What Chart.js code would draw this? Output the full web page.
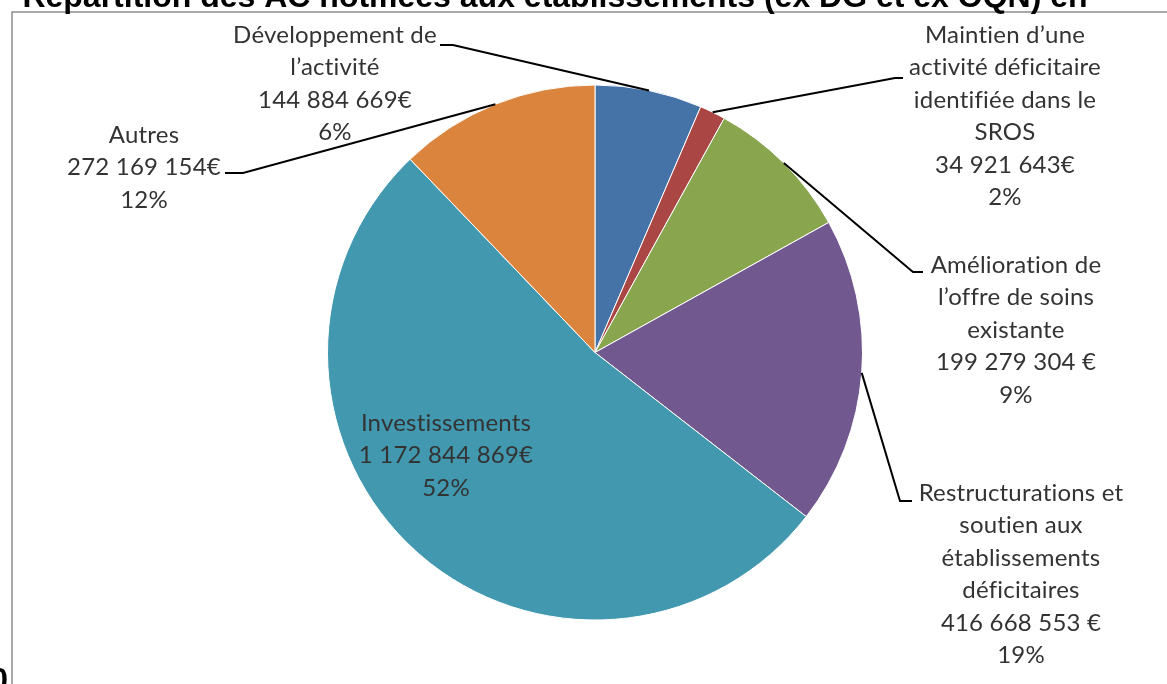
<!DOCTYPE html>
<html>
<head>
<meta charset="utf-8">
<script src="https://cdn.jsdelivr.net/npm/chart.js@4"></script>
<style>
  html, body { margin: 0; padding: 0; background: #fff; }
  #wrap { position: relative; width: 1167px; height: 684px; }
</style>
</head>
<body>
<div id="wrap"><canvas id="pie"></canvas></div>
<script>
// Données
const categories = [
  'Développement de l’activité',
  'Maintien d’une activité déficitaire identifiée dans le SROS',
  'Amélioration de l’offre de soins existante',
  'Restructurations et soutien aux établissements déficitaires',
  'Investissements',
  'Autres',
];
const amounts = [144884669, 34921643, 199279304, 416668553, 1172844869, 272169154];
const amountLabels = ['144 884 669€', '34 921 643€', '199 279 304 €', '416 668 553 €', '1 172 844 869€', '272 169 154€'];
const percentLabels = ['6%', '2%', '9%', '19%', '52%', '12%'];
const labelLines = [
  ['Développement de', 'l’activité'],
  ['Maintien d’une', 'activité déficitaire', 'identifiée dans le', 'SROS'],
  ['Amélioration de', 'l’offre de soins', 'existante'],
  ['Restructurations et', 'soutien aux', 'établissements', 'déficitaires'],
  ['Investissements'],
  ['Autres'],
];
const titleText = 'Répartition des AC notifiées aux établissements (ex DG et ex OQN) en';

const colors = ['#4572A7', '#AA4643', '#89A54E', '#71588F', '#4198AF', '#DB843D'];

// Placement des étiquettes (centre x, y de la 1re ligne) et des lignes de rappel
const labelLayout = [
  { x: 335, y: 35, elbow: [453, 45], end: [440, 45] },
  { x: 1005, y: 35, elbow: [895, 78], end: [903, 78] },
  { x: 1016, y: 265, elbow: [913, 272], end: [923, 272] },
  { x: 1021, y: 493, elbow: [900, 501], end: [912, 501] },
  { x: 446, y: 423 },
  { x: 144, y: 135, elbow: [243, 173], end: [225, 173] },
];
const lineHeight = 32.5;
const labelFont = '24px Lato';

const labelsPlugin = {
  id: 'sliceLabels',
  afterDraw(chart) {
    const ctx = chart.ctx;
    const arcs = chart.getDatasetMeta(0).data;
    ctx.save();

    // cadre gris
    ctx.strokeStyle = '#8c8c8c';
    ctx.lineWidth = 1.5;
    ctx.beginPath();
    ctx.moveTo(12, 684);
    ctx.lineTo(12, 12);
    ctx.lineTo(1167, 12);
    ctx.stroke();

    // lignes de rappel
    ctx.strokeStyle = '#000';
    ctx.lineWidth = 2;
    arcs.forEach((arc, i) => {
      const lay = labelLayout[i];
      if (!lay.elbow) return;
      const mid = (arc.startAngle + arc.endAngle) / 2;
      const px = arc.x + Math.cos(mid) * arc.outerRadius;
      const py = arc.y + Math.sin(mid) * arc.outerRadius;
      ctx.beginPath();
      ctx.moveTo(px, py);
      ctx.lineTo(lay.elbow[0], lay.elbow[1]);
      ctx.lineTo(lay.end[0], lay.end[1]);
      ctx.stroke();
    });

    // textes (letterSpacing non nul : pas de ligatures « ti »)
    ctx.fillStyle = '#333333';
    ctx.font = labelFont;
    ctx.letterSpacing = '0.2px';
    ctx.textAlign = 'center';
    ctx.textBaseline = 'middle';
    arcs.forEach((arc, i) => {
      const lay = labelLayout[i];
      const lines = [...labelLines[i], amountLabels[i], percentLabels[i]];
      lines.forEach((t, k) => ctx.fillText(t, lay.x, lay.y + k * lineHeight));
    });

    // titre (coupé en haut)
    ctx.letterSpacing = '0px';
    ctx.fillStyle = '#000';
    ctx.font = 'bold 32px "Liberation Sans"';
    ctx.textBaseline = 'alphabetic';
    ctx.fillText(titleText, 555, 7);
    ctx.textAlign = 'right';
    ctx.fillText('0', 8, 690);
    ctx.restore();
  },
};

new Chart(document.getElementById('pie'), {
  type: 'pie',
  data: {
    labels: categories,
    datasets: [{
      data: amounts,
      backgroundColor: colors,
      borderColor: '#ffffff',
      borderWidth: 1,
    }],
  },
  options: {
    responsive: true,
    maintainAspectRatio: false,
    animation: false,
    layout: { padding: { top: 84, bottom: 63, left: 327, right: 304 } },
    plugins: {
      legend: { display: false },
      tooltip: { enabled: false },
    },
  },
  plugins: [labelsPlugin],
});
</script>
</body>
</html>
